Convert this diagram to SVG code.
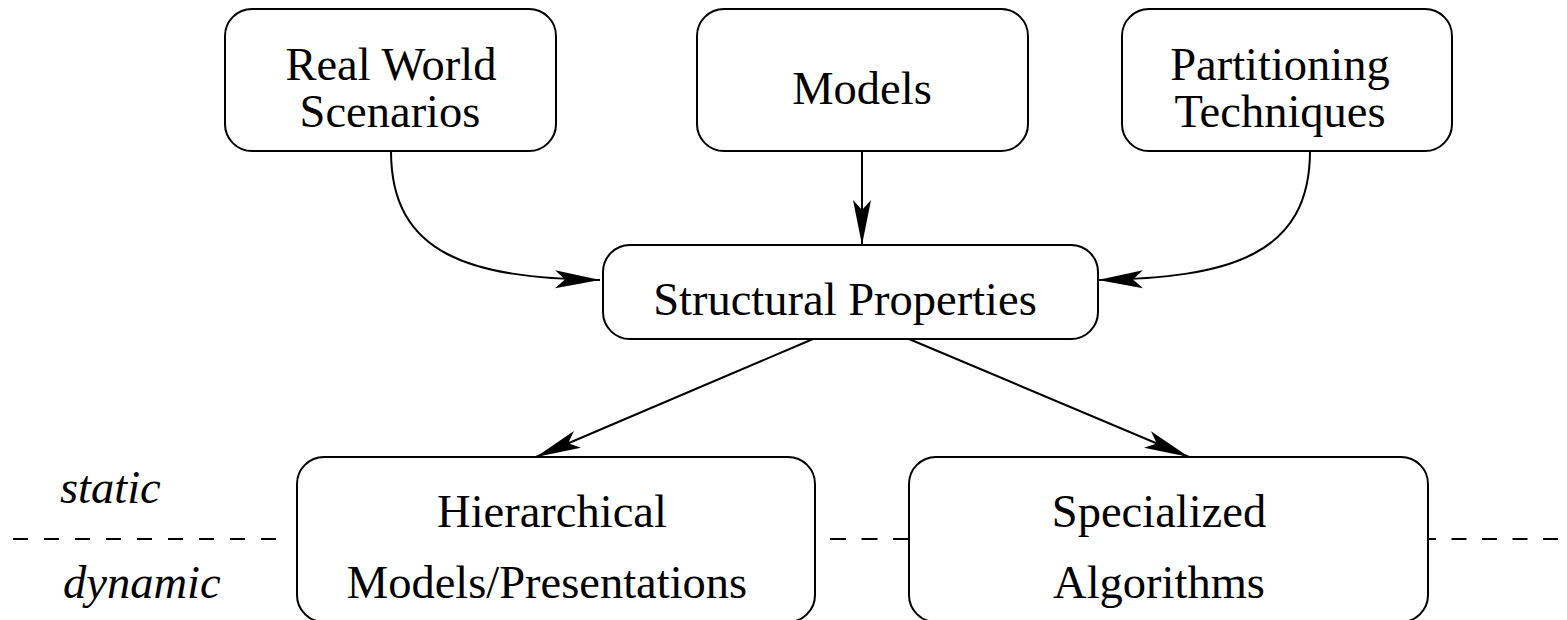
<svg xmlns="http://www.w3.org/2000/svg" width="1567" height="620" viewBox="0 0 1567 620">
<style>
.box{fill:#fff;stroke:#000;stroke-width:2}
.t{font-family:"Liberation Serif","Times New Roman",serif;font-size:46.5px;fill:#000;text-anchor:middle}
.lab{font-family:"Liberation Serif","Times New Roman",serif;font-size:46.5px;font-style:italic;fill:#000}
.c{fill:none;stroke:#000;stroke-width:2}
.dash{stroke:#000;stroke-width:2}
</style>
<defs>
<marker id="ah" markerUnits="userSpaceOnUse" markerWidth="46" markerHeight="20" viewBox="0 0 46 20" refX="45" refY="10" orient="auto">
<path d="M45,10 L0,1 L10,10 L0,19 Z" fill="#000"/>
</marker>
</defs>
<g id="divider">
<line class="dash" x1="13" y1="539" x2="280" y2="539" stroke-dasharray="15 16"/>
<line class="dash" x1="830" y1="539" x2="909" y2="539" stroke-dasharray="16 15.5"/>
<line class="dash" x1="1421" y1="539" x2="1567" y2="539" stroke-dasharray="15 15.5"/>
</g>
<g id="connectors">
<path class="c" d="M391,151 C391,255 470,278 600,280" marker-end="url(#ah)"/>
<path class="c" d="M862,151 L862,245" marker-end="url(#ah)"/>
<path class="c" d="M1310,151 C1310,255 1230,278 1098,280" marker-end="url(#ah)"/>
<path class="c" d="M813,339 L536,457" marker-end="url(#ah)"/>
<path class="c" d="M909,339 L1189,457" marker-end="url(#ah)"/>
</g>
<g id="real-world">
<rect class="box" x="225" y="9" width="331" height="142" rx="27"/>
<text class="t" x="391" y="80">Real World</text>
<text class="t" x="390" y="127">Scenarios</text>
</g>
<g id="models">
<rect class="box" x="697" y="9" width="331" height="142" rx="27"/>
<text class="t" x="862" y="104">Models</text>
</g>
<g id="partitioning">
<rect class="box" x="1122" y="9" width="330" height="142" rx="27"/>
<text class="t" x="1280" y="80">Partitioning</text>
<text class="t" x="1280" y="127">Techniques</text>
</g>
<g id="structural">
<rect class="box" x="603" y="245" width="495" height="94" rx="27"/>
<text class="t" x="845" y="315">Structural Properties</text>
</g>
<g id="hierarchical">
<rect class="box" x="297" y="457" width="518" height="165" rx="27"/>
<text class="t" x="552" y="527">Hierarchical</text>
<text class="t" x="547" y="598">Models/Presentations</text>
</g>
<g id="specialized">
<rect class="box" x="909" y="457" width="519" height="165" rx="27"/>
<text class="t" x="1159" y="527">Specialized</text>
<text class="t" x="1159" y="598">Algorithms</text>
</g>
<g id="labels">
<text class="lab" x="60" y="503">static</text>
<text class="lab" x="63" y="598">dynamic</text>
</g>
</svg>
